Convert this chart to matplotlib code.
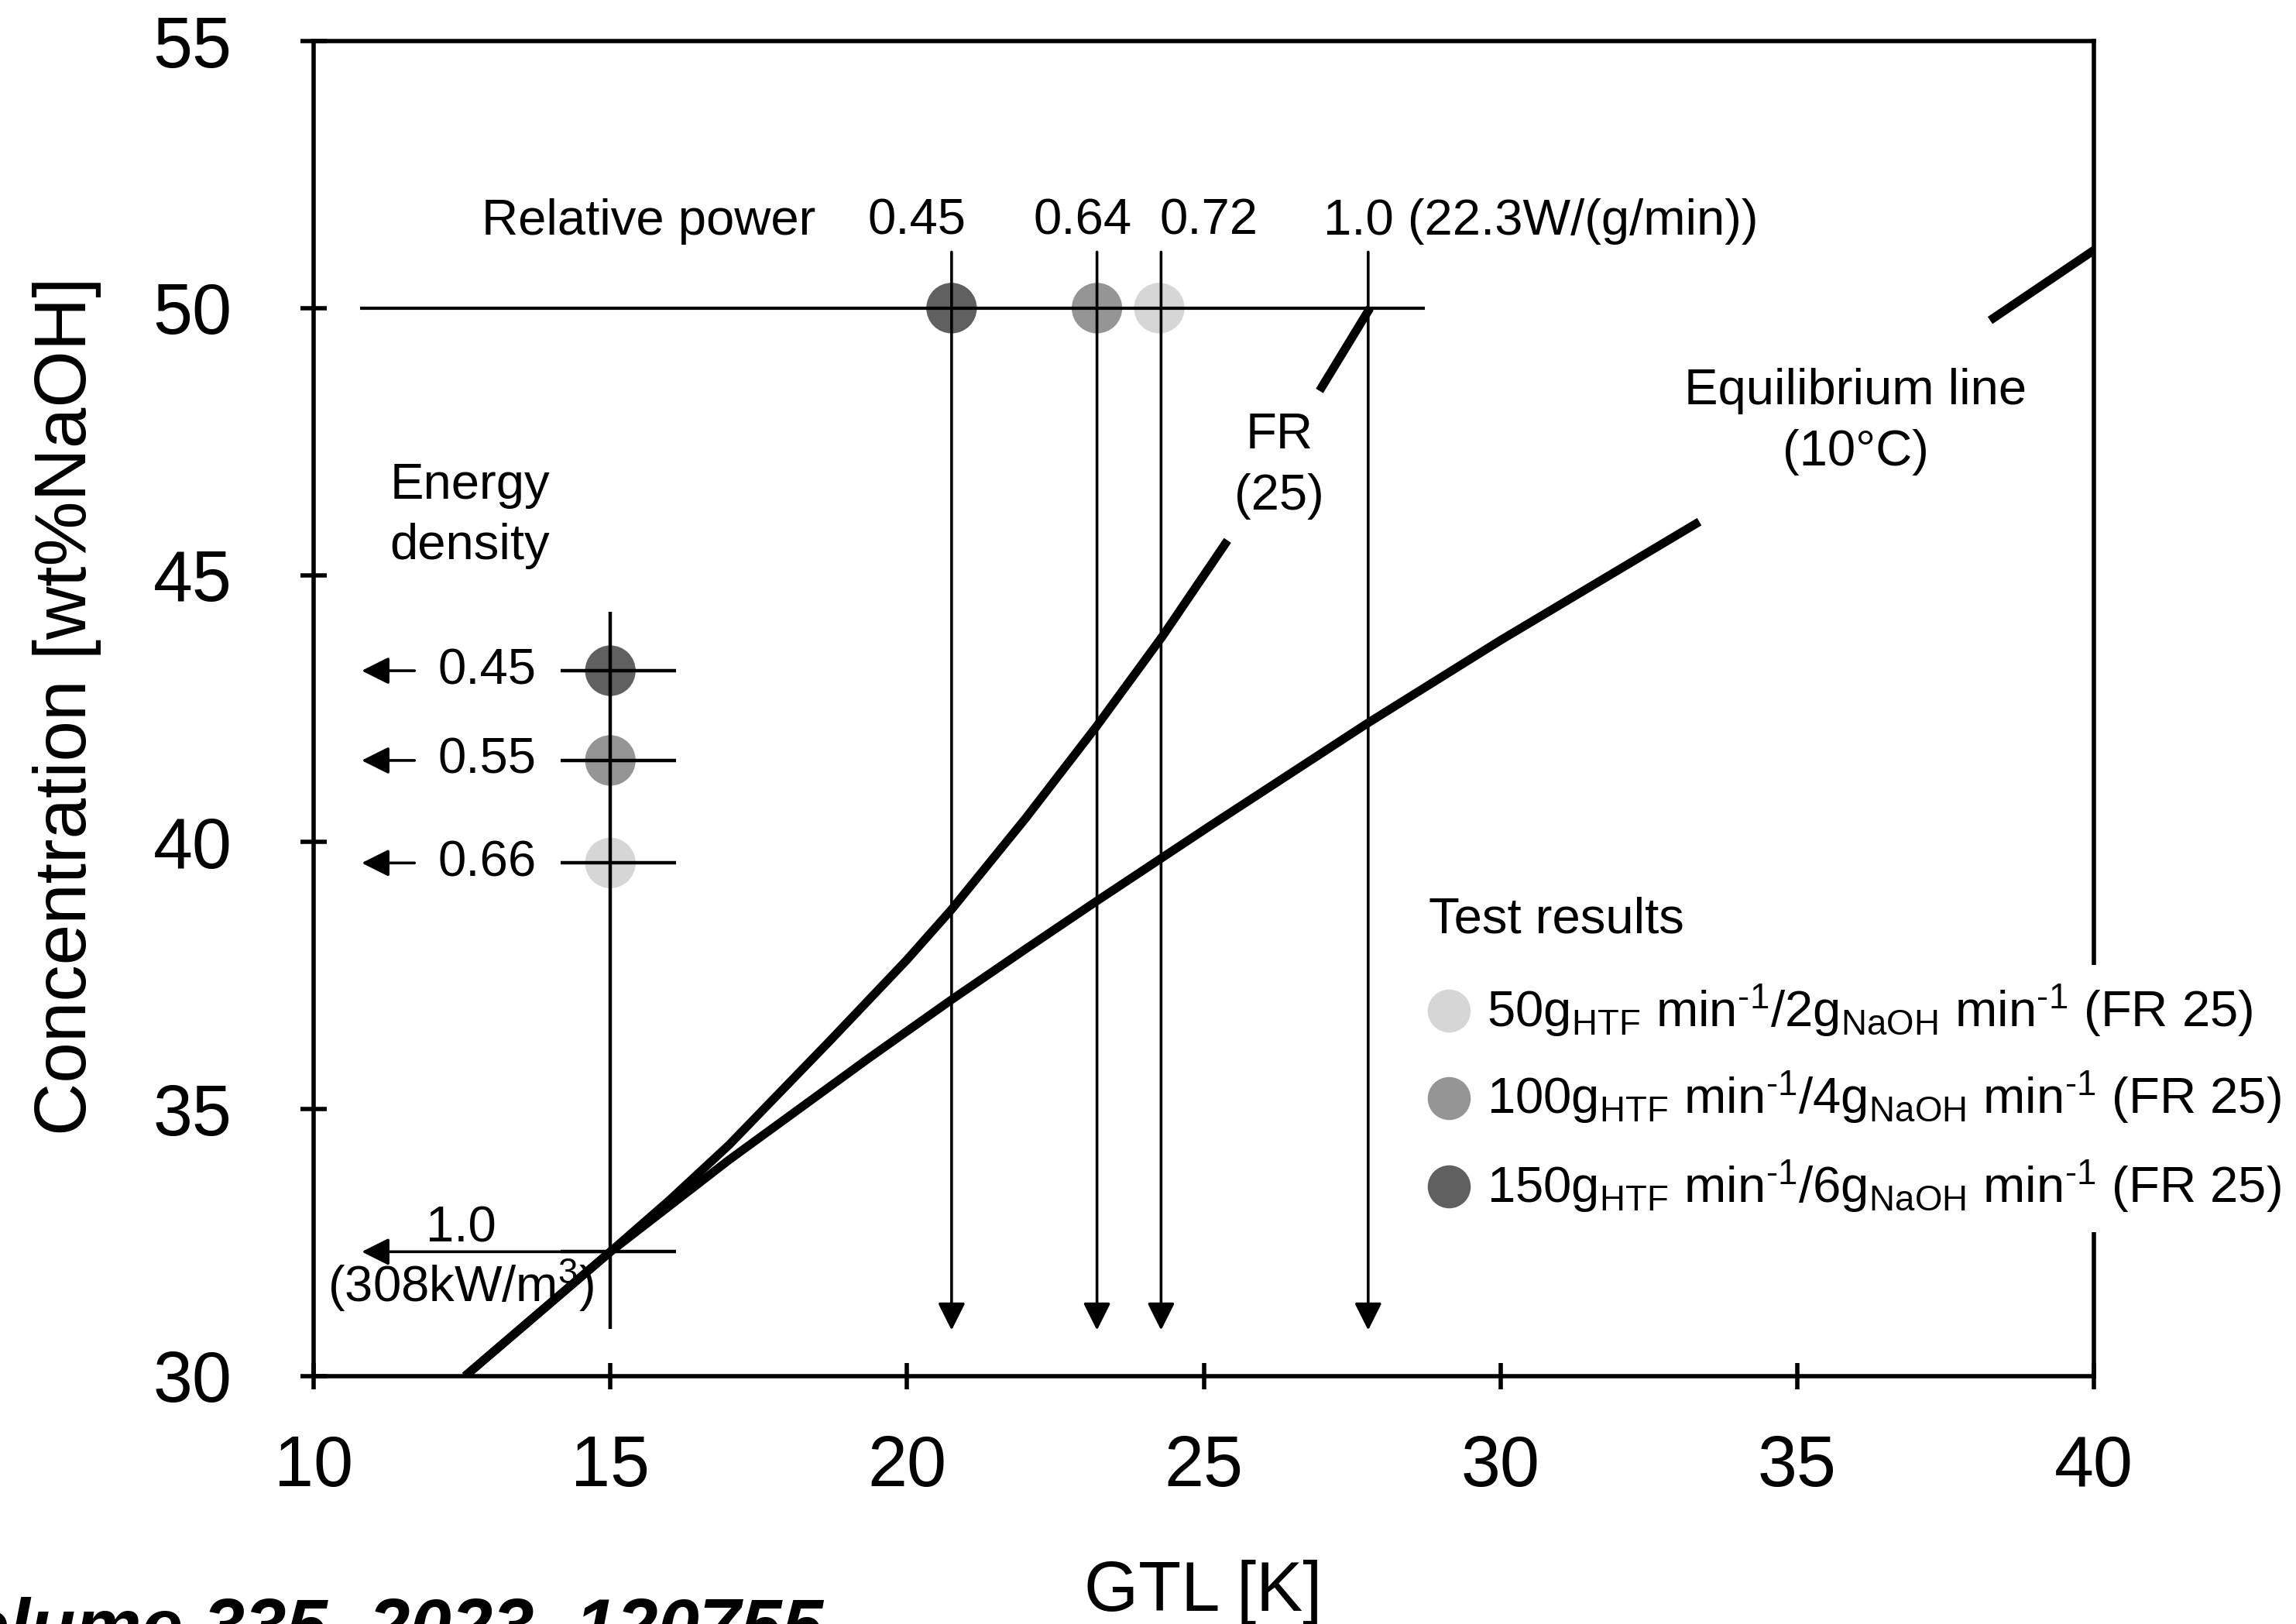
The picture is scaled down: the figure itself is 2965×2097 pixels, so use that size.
import numpy as np
import matplotlib.pyplot as plt

plt.rcParams['font.family'] = ['Liberation Sans', 'DejaVu Sans']
plt.rcParams['mathtext.fontset'] = 'custom'
plt.rcParams['mathtext.rm'] = 'Liberation Sans'
plt.rcParams['mathtext.it'] = 'Liberation Sans:italic'
plt.rcParams['mathtext.bf'] = 'Liberation Sans:bold'

# curves (nan = gap left for the labels)
fr_gtl = [12.55, 15.0, 16.0, 17.0, 18.7, 20.0, 20.75, 22.0, 23.2, 24.3, 25.4, np.nan, 26.95, 27.8]
fr_conc = [30.0, 32.33, 33.3, 34.33, 36.28, 37.8, 38.74, 40.45, 42.18, 43.85, 45.65, np.nan, 48.45, 50.0]
eq_gtl = [12.55, 15.0, 17.0, 19.35, 20.75, 22.0, 23.2, 25.1, 27.75, 30.0, 33.35, np.nan, 38.25, 40.1]
eq_conc = [30.0, 32.33, 34.05, 35.95, 37.05, 38.0, 38.9, 40.3, 42.22, 43.78, 46.0, np.nan, 49.77, 51.16]

# relative power (at 50 wt%)
power_conc = 50.0
power_gtl = [20.75, 23.2, 24.28, 27.77]
power_labels = ['0.45', '0.64', '0.72', '1.0 (22.3W/(g/min))']

# energy density (at GTL 15 K)
density_gtl = 15.0
density_conc = [43.21, 41.53, 39.61]
density_labels = ['0.45', '0.55', '0.66']
design_conc = 32.33
design_label = '1.0'
design_unit = '(308kW/m$^3$)'

# test results: 50 / 100 / 150 g/min
test_power_gtl = [24.25, 23.2, 20.75]
test_density_conc = [39.61, 41.53, 43.21]
test_colors = ['#d6d6d6', '#959595', '#606060']
test_labels = [
    r'50g$_{\mathrm{HTF}}$ min$^{\text{-1}}$/2g$_{\mathrm{NaOH}}$ min$^{\text{-1}}$ (FR 25)',
    r'100g$_{\mathrm{HTF}}$ min$^{\text{-1}}$/4g$_{\mathrm{NaOH}}$ min$^{\text{-1}}$ (FR 25)',
    r'150g$_{\mathrm{HTF}}$ min$^{\text{-1}}$/6g$_{\mathrm{NaOH}}$ min$^{\text{-1}}$ (FR 25)',
]

fs = 47
fig = plt.figure(figsize=(29.65, 20.97), dpi=100)
ax = fig.add_axes([0.1366, 0.1526, 0.7754, 0.8221])

# markers first, lines drawn over them
ax.scatter(test_power_gtl, [power_conc] * 3, s=47 ** 2, c=test_colors, zorder=2, linewidths=0)
ax.scatter([density_gtl] * 3, test_density_conc, s=47 ** 2, c=test_colors, zorder=2, linewidths=0)

ax.plot(fr_gtl, fr_conc, color='black', lw=8, solid_capstyle='butt', solid_joinstyle='round', zorder=4)
ax.plot(eq_gtl, eq_conc, color='black', lw=8, solid_capstyle='butt', solid_joinstyle='round', zorder=4)

arrow = dict(arrowstyle='-|>,head_length=0.4,head_width=0.2', color='black',
             lw=2.6, mutation_scale=54, shrinkA=0, shrinkB=0)

# relative power
ax.hlines(power_conc, 10.78, 28.73, color='black', lw=3, zorder=3)
for x in power_gtl:
    ax.annotate('', xy=(x, 30.86), xytext=(x, 51.05), arrowprops=arrow, zorder=3)
ax.text(12.83, 51.38, 'Relative power', fontsize=fs, va='baseline')
for x, lab in zip([19.34, 22.13, 24.25, 27.01], power_labels):
    ax.text(x, 51.38, lab, fontsize=fs, va='baseline')

# energy density
ax.vlines(density_gtl, 30.88, 44.31, color='black', lw=3.2, zorder=3)
ax.hlines(density_conc + [design_conc], 14.16, 16.11, color='black', lw=3.2, zorder=3)
for y, lab in zip(density_conc, density_labels):
    ax.annotate('', xy=(10.81, y), xytext=(11.7, y), arrowprops=arrow, zorder=3)
    ax.text(12.92, y, lab, fontsize=fs, ha='center', va='center')
ax.annotate('', xy=(10.81, design_conc), xytext=(density_gtl, design_conc), arrowprops=arrow, zorder=3)
ax.text(12.49, 32.52, design_label, fontsize=fs, ha='center', va='baseline')
ax.text(12.48, 31.70, design_unit, fontsize=fs, ha='center', va='center')
ax.text(12.63, 46.11, 'Energy\ndensity', fontsize=fs, ha='center', va='center', linespacing=1.4)

ax.text(26.27, 47.05, 'FR\n(25)', fontsize=fs, ha='center', va='center', linespacing=1.4)
ax.text(35.98, 47.87, 'Equilibrium line\n(10°C)', fontsize=fs, ha='center', va='center', linespacing=1.4)

# test results legend (white boxes break the right frame)
ax.text(28.79, 38.30, 'Test results', fontsize=fs, va='baseline')
for y, col, lab in zip([36.84, 35.21, 33.55], test_colors, test_labels):
    ax.plot(29.13, y, 'o', ms=40, color=col, mec='none', clip_on=False, zorder=5)
    ax.text(29.77, y, lab, fontsize=fs, va='center', zorder=4,
            bbox=dict(boxstyle='square,pad=0.34', fc='white', ec='none'))

ax.set_xlim(10, 40)
ax.set_ylim(30, 55)
ax.set_xticks(np.arange(10, 41, 5))
ax.set_yticks(np.arange(30, 56, 5))
ax.tick_params(direction='inout', length=24, width=4, labelsize=66)
ax.tick_params(axis='x', pad=42)
ax.tick_params(axis='y', pad=64)
for s in ax.spines.values():
    s.set_linewidth(4)

fig.text(0.0293, 0.565, 'Concentration [wt%NaOH]', rotation=90, ha='center', va='center', fontsize=68)
fig.text(0.524, 0.008, 'GTL [K]', ha='center', va='baseline', fontsize=65)
fig.text(0.3585, -0.0167, 'Volume 335, 2023, 120755', ha='right', va='baseline',
         fontsize=69, fontweight='bold', fontstyle='italic')

fig.savefig('out.png', dpi=100)
